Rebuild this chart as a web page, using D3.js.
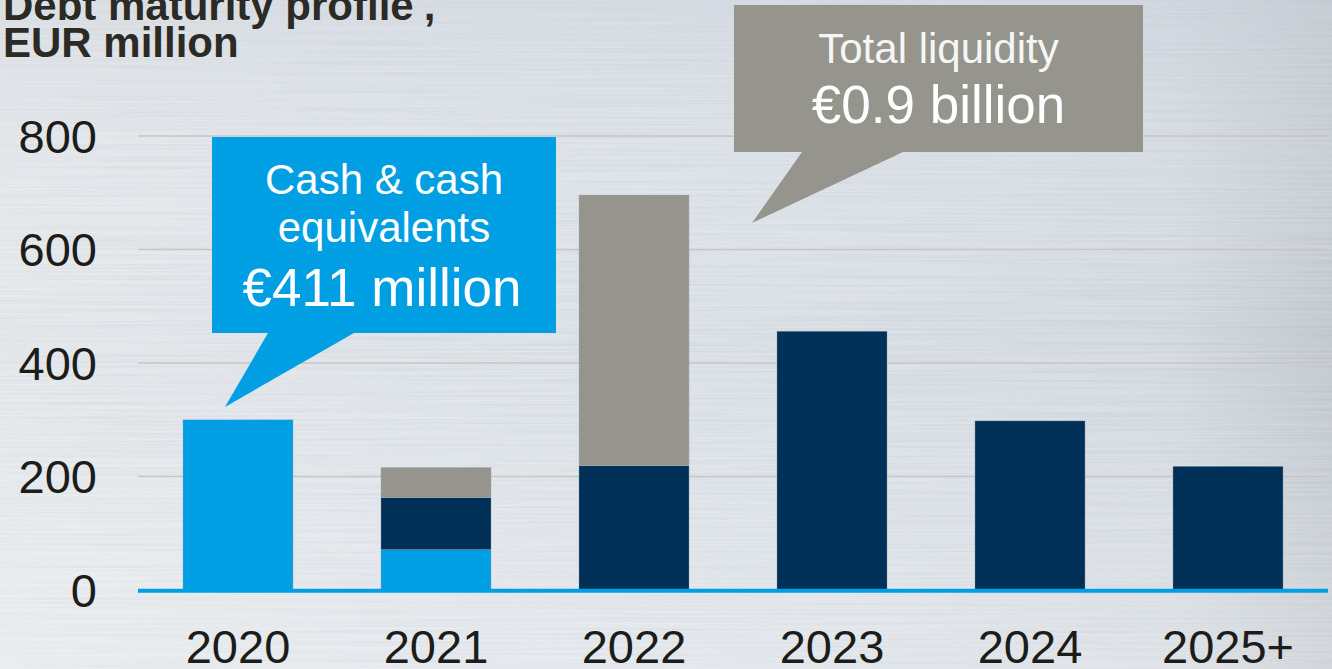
<!DOCTYPE html>
<html>
<head>
<meta charset="utf-8">
<script src="https://cdn.jsdelivr.net/npm/d3@7/dist/d3.min.js"></script>
<style>
  html, body { margin: 0; padding: 0; background: #d9dee3; }
  svg { display: block; }
  text { font-family: "Liberation Sans", Arial, sans-serif; }
</style>
</head>
<body>
<svg id="chart" width="1332" height="669"></svg>
<script>
// Maturity years
const years = ["2020", "2021", "2022", "2023", "2024", "2025+"];
// Stacked segments, EUR million (bottom to top)
const cashCovered   = [300, 71, 0, 0, 0, 0];
const debtMaturing  = [0, 92, 219, 456, 298, 218];
const liquidityCovered = [0, 53, 477, 0, 0, 0];
// Y axis ticks
const yTicks = [0, 200, 400, 600, 800];

const seriesKeys = ["cash", "debt", "liquidity"];
const seriesColors = { cash: "#009fe3", debt: "#003057", liquidity: "#95958e" };

const table = years.map((y, i) => ({
  year: y,
  cash: cashCovered[i],
  debt: debtMaturing[i],
  liquidity: liquidityCovered[i]
}));

const W = 1332, H = 669;
const svg = d3.select("#chart");
const defs = svg.append("defs");

// Brushed-metal backdrop
const bg = defs.append("linearGradient").attr("id", "bgH")
  .attr("x1", 0).attr("x2", 1).attr("y1", 0).attr("y2", 0);
[[0, "#e2e5e8"], [0.3, "#dbe0e5"], [0.6, "#d6dce3"], [0.88, "#cfd5dc"], [1, "#bcc2c9"]]
  .forEach(([o, c]) => bg.append("stop").attr("offset", o).attr("stop-color", c));
const bgV = defs.append("linearGradient").attr("id", "bgV")
  .attr("x1", 0).attr("x2", 0).attr("y1", 0).attr("y2", 1);
bgV.append("stop").attr("offset", 0).attr("stop-color", "#c9d0d8").attr("stop-opacity", 0.35);
bgV.append("stop").attr("offset", 0.5).attr("stop-color", "#ffffff").attr("stop-opacity", 0);
bgV.append("stop").attr("offset", 1).attr("stop-color", "#ffffff").attr("stop-opacity", 0.25);

const brush = defs.append("filter").attr("id", "brush")
  .attr("x", 0).attr("y", 0).attr("width", 1).attr("height", 1);
brush.append("feTurbulence").attr("type", "fractalNoise")
  .attr("baseFrequency", "0.004 0.45").attr("numOctaves", 2).attr("seed", 7).attr("result", "n");
brush.append("feColorMatrix").attr("type", "matrix")
  .attr("values", "0.9 0 0 0 0.37  0.9 0 0 0 0.40  0.9 0 0 0 0.44  0 0 0 0 0.18");

svg.append("rect").attr("width", W).attr("height", H).attr("fill", "url(#bgH)");
svg.append("rect").attr("width", W).attr("height", H).attr("filter", "url(#brush)");
svg.append("rect").attr("width", W).attr("height", H).attr("fill", "url(#bgV)");

// Scales
const x = d3.scaleBand().domain(years).range([139, 1327])
  .paddingInner(0.444).paddingOuter(0.222);
const y = d3.scaleLinear().domain([0, 800]).range([590, 136]);

// Title
const title = svg.append("text").attr("x", 3).attr("y", 20)
  .attr("font-size", 42).attr("font-weight", "bold").attr("fill", "#2b2a24");
title.append("tspan").text("Debt maturity profile");
title.append("tspan").attr("dy", -16).attr("font-size", 26).text("*");
title.append("tspan").attr("dy", 16).text(",");
svg.append("text").attr("x", 3).attr("y", 57)
  .attr("font-size", 42).attr("font-weight", "bold").attr("fill", "#2b2a24")
  .text("EUR million");

// Gridlines
svg.append("g").selectAll("line").data(yTicks.filter(t => t > 0)).join("line")
  .attr("x1", 138).attr("x2", 1328)
  .attr("y1", d => y(d)).attr("y2", d => y(d))
  .attr("stroke", "#c4c6c8").attr("stroke-width", 1.5);

// Y axis labels
const yAxis = d3.axisLeft(y).tickValues(yTicks).tickSize(0).tickPadding(0);
const gy = svg.append("g").attr("transform", "translate(97,0)").call(yAxis);
gy.select(".domain").remove();
gy.selectAll("text").attr("font-size", 47).attr("fill", "#1c1c1a")
  .attr("font-family", "'Liberation Sans', Arial, sans-serif")
  .attr("dy", "0.35em");

// Stacked bars
const stacked = d3.stack().keys(seriesKeys)(table);
svg.append("g").selectAll("g").data(stacked).join("g")
  .attr("fill", d => seriesColors[d.key])
  .selectAll("rect").data(d => d.filter(s => s[1] - s[0] > 0)).join("rect")
  .attr("x", d => x(d.data.year))
  .attr("width", x.bandwidth())
  .attr("y", d => y(d[1]))
  .attr("height", d => y(d[0]) - y(d[1]))
  .attr("stroke", "#a9b6c2").attr("stroke-width", 0.6).attr("stroke-opacity", 0.6);

// Baseline
svg.append("line").attr("x1", 138).attr("x2", 1328)
  .attr("y1", y(0) + 0.7).attr("y2", y(0) + 0.7)
  .attr("stroke", "#009fe3").attr("stroke-width", 4);

// X axis labels
const xAxis = d3.axisBottom(x).tickSize(0).tickPadding(0);
const gx = svg.append("g").attr("transform", "translate(0,663)").call(xAxis);
gx.select(".domain").remove();
gx.selectAll("text").attr("font-size", 47).attr("fill", "#1c1c1a")
  .attr("font-family", "'Liberation Sans', Arial, sans-serif")
  .attr("dy", 0);

// Callouts
function callout(box, tip, fill, lines) {
  const g = svg.append("g");
  g.append("path")
    .attr("d", `M${box.x},${box.y}H${box.x + box.w}V${box.y + box.h}H${tip.b2}L${tip.x},${tip.y}L${tip.b1},${box.y + box.h}H${box.x}Z`)
    .attr("fill", fill);
  lines.forEach(l => {
    g.append("text").attr("x", box.x + box.w / 2 + (l.dx || 0)).attr("y", l.y)
      .attr("text-anchor", "middle").attr("font-size", l.size)
      .attr("fill", l.color || "#ffffff").text(l.text);
  });
}

callout({ x: 212, y: 137, w: 344, h: 196 },
  { x: x("2020") + 42, y: 407, b1: 268, b2: 354 }, "#009fe3",
  [{ text: "Cash & cash", y: 194, size: 42 },
   { text: "equivalents", y: 242, size: 42 },
   { text: "€411 million", y: 306, size: 53, dx: -2 }]);

callout({ x: 734, y: 5, w: 409, h: 147 },
  { x: 752, y: 223, b1: 802, b2: 903 }, "#95958e",
  [{ text: "Total liquidity", y: 63, size: 42, color: "#f6f6f4" },
   { text: "€0.9 billion", y: 123, size: 53, color: "#ffffff" }]);
</script>
</body>
</html>
